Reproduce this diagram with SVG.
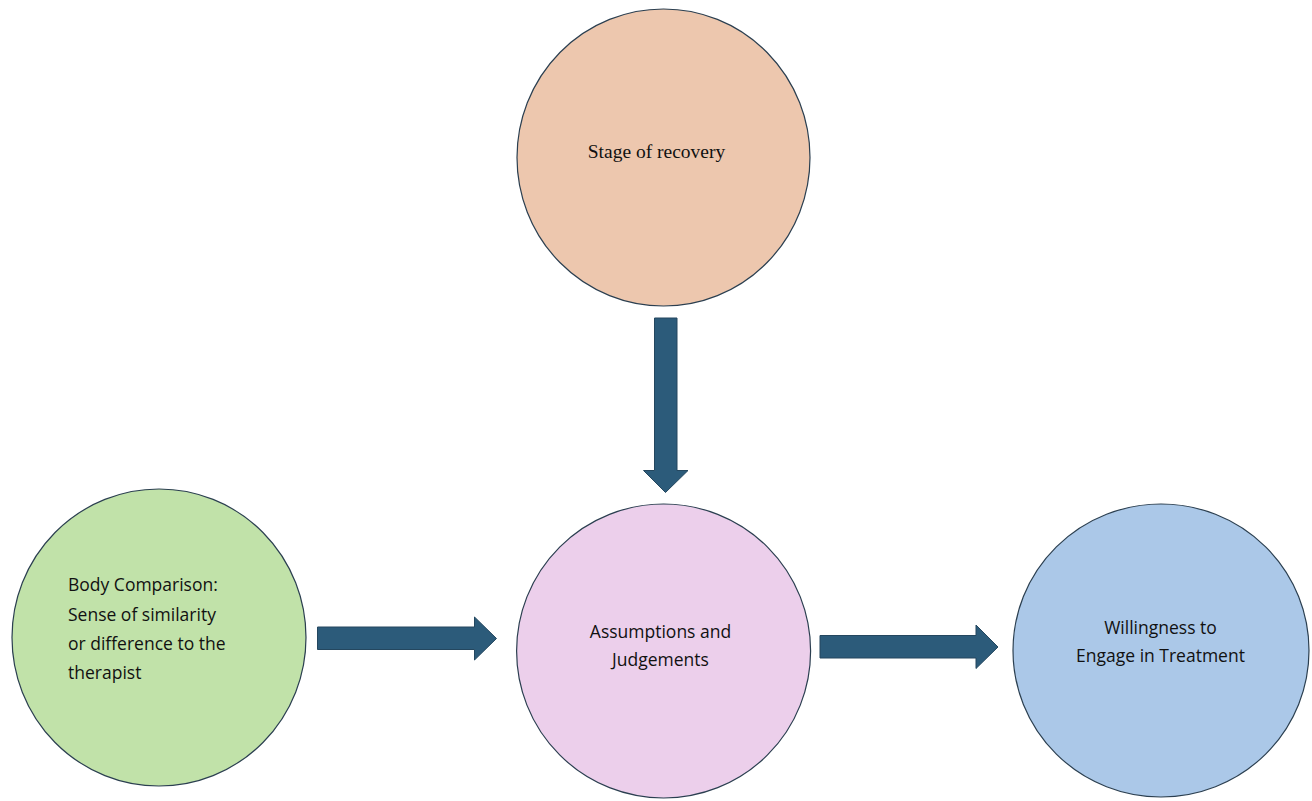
<svg xmlns="http://www.w3.org/2000/svg" width="1312" height="801" viewBox="0 0 1312 801">
<style>
.node{stroke:#2b3f50;stroke-width:1.2}
.arrow{fill:#2c5b7a;stroke:#24475f;stroke-width:1}
.sans{font-family:"Open Sans","Liberation Sans",sans-serif;font-size:17.5px;fill:#111111}
.serif{font-family:"Liberation Serif","Times New Roman",serif;font-size:19.5px;fill:#111111}
</style>
<rect width="1312" height="801" fill="#ffffff"/>
<g id="node-stage">
<ellipse class="node" cx="663.5" cy="157.5" rx="146.5" ry="148.5" fill="#edc7ae"/>
<text class="serif" x="656.5" y="158" text-anchor="middle">Stage of recovery</text>
</g>
<g id="node-body">
<ellipse class="node" cx="159" cy="637.5" rx="147" ry="148.5" fill="#c1e2a9"/>
<text class="sans" x="68" y="591">Body Comparison:</text>
<text class="sans" x="68" y="621">Sense of similarity</text>
<text class="sans" x="68" y="650">or difference to the</text>
<text class="sans" x="68" y="679">therapist</text>
</g>
<g id="node-assumptions">
<ellipse class="node" cx="663.6" cy="651" rx="147" ry="147" fill="#eccfeb"/>
<text class="sans" x="660.5" y="638" text-anchor="middle">Assumptions and</text>
<text class="sans" x="660.5" y="666" text-anchor="middle">Judgements</text>
</g>
<g id="node-willingness">
<ellipse class="node" cx="1161" cy="650.5" rx="148" ry="146.5" fill="#abc8e8"/>
<text class="sans" x="1160.5" y="634" text-anchor="middle">Willingness to</text>
<text class="sans" x="1160.5" y="662" text-anchor="middle">Engage in Treatment</text>
</g>
<g id="connectors">
<polygon class="arrow" points="654.5,318 677,318 677,470.5 688,470.5 665.5,492.5 643.5,470.5 654.5,470.5"/>
<polygon class="arrow" points="317.5,627 474.5,627 474.5,617 496.5,638.5 474.5,660 474.5,649.5 317.5,649.5"/>
<polygon class="arrow" points="820,635.5 976,635.5 976,625 998,647 976,668.5 976,658 820,658"/>
</g>
</svg>
